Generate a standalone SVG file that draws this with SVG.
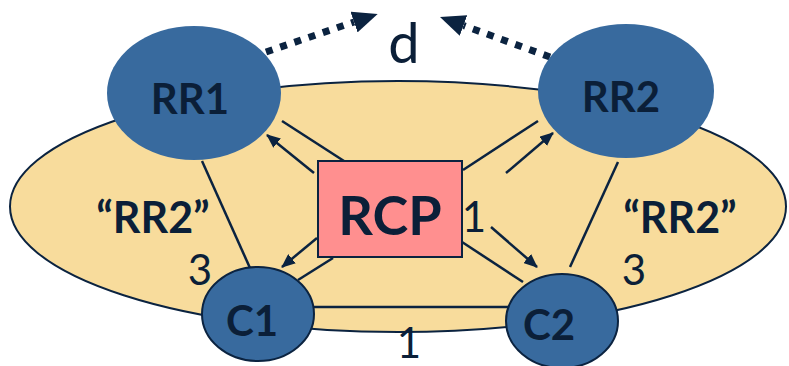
<svg xmlns="http://www.w3.org/2000/svg" width="789" height="366" viewBox="0 0 789 366">
<defs>
<style>
.ink{stroke:#0B2340;fill:none;stroke-width:2.5}
.dot{stroke:#0B2340;fill:none;stroke-width:7;stroke-dasharray:7 8}
.node{fill:#386A9E}
.cnode{fill:#386A9E;stroke:#0B2340;stroke-width:2}
.lbl{font-family:Lato,"Liberation Sans",sans-serif;font-weight:bold;fill:#0B1F38;text-anchor:middle}
.num{font-family:Lato,"Liberation Sans",sans-serif;fill:#0B1F38;text-anchor:middle}
</style>
<marker id="ah" viewBox="0 0 14 12" refX="13" refY="6" markerWidth="14" markerHeight="12" markerUnits="userSpaceOnUse" orient="auto"><path d="M0,0 L14,6 L0,12 z" fill="#0B2340"/></marker>
<marker id="big" viewBox="0 0 25 22" refX="0" refY="11" markerWidth="25" markerHeight="22" markerUnits="userSpaceOnUse" orient="auto"><path d="M0,0 L25,11 L0,22 z" fill="#0B2340"/></marker>
</defs>
<g id="domain"><ellipse cx="398" cy="206.5" rx="388" ry="125.5" fill="#F8DC9C" stroke="#0B2340" stroke-width="2"/></g>
<g id="connectors">
<line class="ink" x1="282" y1="121" x2="344" y2="161"/>
<line class="ink" x1="463" y1="170" x2="538" y2="121"/>
<line class="ink" x1="333" y1="258" x2="298" y2="280"/>
<line class="ink" x1="462" y1="242" x2="523" y2="282"/>
<line class="ink" x1="202" y1="161" x2="250" y2="268"/>
<line class="ink" x1="618" y1="162" x2="570" y2="267"/>
<line class="ink" x1="312" y1="307" x2="510" y2="307"/>
<line class="ink" x1="314" y1="173" x2="267" y2="135" marker-end="url(#ah)"/>
<line class="ink" x1="506" y1="173" x2="553" y2="133" marker-end="url(#ah)"/>
<line class="ink" x1="317" y1="238" x2="282" y2="267" marker-end="url(#ah)"/>
<line class="ink" x1="491" y1="227" x2="537" y2="267" marker-end="url(#ah)"/>
<line class="dot" x1="266" y1="52" x2="354" y2="22" marker-end="url(#big)"/>
<line class="dot" x1="550" y1="57" x2="463.5" y2="25.5" marker-end="url(#big)"/>
</g>
<g id="RR1"><ellipse class="node" cx="194" cy="93" rx="87" ry="67"/><text class="lbl" x="190" y="114" font-size="42">RR1</text></g>
<g id="RR2"><ellipse class="node" cx="626" cy="91" rx="88" ry="67"/><text class="lbl" x="621" y="112" font-size="42">RR2</text></g>
<g id="C1"><ellipse class="cnode" cx="258" cy="314" rx="56" ry="47"/><text class="lbl" x="252" y="336" font-size="42">C1</text></g>
<g id="C2"><ellipse class="cnode" cx="562" cy="321" rx="56" ry="47"/><text class="lbl" x="549" y="340" font-size="42">C2</text></g>
<g id="RCP"><rect x="318" y="161" width="144" height="96" fill="#FF8F8F" stroke="#0B2340" stroke-width="2"/><text class="lbl" x="390" y="235" font-size="54">RCP</text></g>
<g id="labels">
<text class="lbl" x="153" y="233" font-size="43">“RR2”</text>
<text class="lbl" x="680" y="233" font-size="43">“RR2”</text>
<text class="num" x="200" y="285" font-size="42">3</text>
<text class="num" x="634" y="285" font-size="42">3</text>
<text class="num" x="474" y="232" font-size="42">1</text>
<text class="num" x="409" y="358" font-size="42">1</text>
<text class="num" x="404" y="63" font-size="56">d</text>
</g>
</svg>
